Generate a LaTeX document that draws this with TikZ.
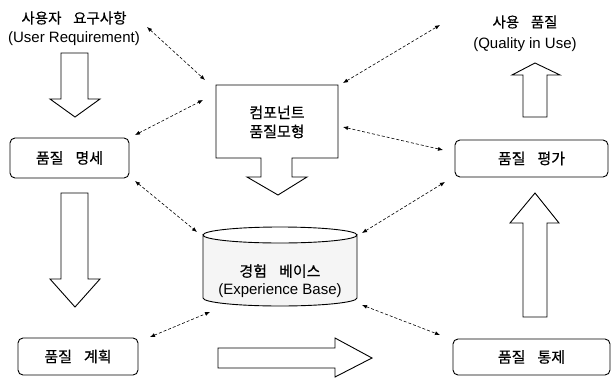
\documentclass[tikz,border=0pt]{standalone}
\usepackage{fontspec}
\setmainfont{Liberation Sans}
\newfontfamily\kr[FakeBold=0.4]{Noto Sans CJK KR}
\usetikzlibrary{arrows.meta}
\tikzset{
  blk/.style={draw=black, line width=0.9pt, fill=white, line join=miter},
  rbox/.style={draw=black, line width=0.9pt, rounded corners=5pt, inner sep=0pt,
    font=\kr\fontsize{15}{17}\selectfont},
  link/.style={line width=0.6pt, dash pattern=on 3pt off 2pt,
    {Latex[length=5pt,width=4pt]}-{Latex[length=5pt,width=4pt]}},
  krlbl/.style={inner sep=0pt, font=\kr\fontsize{14.5}{16}\selectfont},
  enlbl/.style={inner sep=0pt, font=\fontsize{15}{16}\selectfont}
}
\newcommand{\wsp}{\hspace{0.8em}}
\begin{document}
\begin{tikzpicture}[x=1pt,y=-1pt]
\useasboundingbox (0,0) rectangle (613,378);

% texts at top
\node[krlbl] (ur1) at (74,18) {사용자\wsp 요구사항};
\node[enlbl] (ur2) at (74,39) {(User Requirement)};
\node[krlbl] (qu1) at (525,22) {사용\wsp 품질};
\node[enlbl] (qu2) at (525,45) {(Quality in Use)};

% rounded boxes
\node[rbox, minimum width=119pt, minimum height=40pt] (spec) at (69.5,158) {품질\wsp 명세};
\node[rbox, minimum width=120pt, minimum height=37pt] (plan) at (78,356.5) {품질\wsp 계획};
\node[rbox, minimum width=153pt, minimum height=37pt] (eval) at (531.5,158.5) {품질\wsp 평가};
\node[rbox, minimum width=157pt, minimum height=36pt] (ctrl) at (531.5,357) {품질\wsp 통제};

% block arrows
\draw[blk] (61,53) -- (88,53) -- (88,99) -- (100,99) -- (75,117) -- (50,99) -- (61,99) -- cycle;
\draw[blk] (61,193) -- (88,193) -- (88,279) -- (100,279) -- (75,307) -- (50,279) -- (61,279) -- cycle;
\draw[blk] (218,348) -- (335,348) -- (335,338) -- (372,358) -- (335,377) -- (335,368) -- (218,368) -- cycle;
\draw[blk] (523,317) -- (523,223) -- (510,223) -- (535,193) -- (559,223) -- (547,223) -- (547,317) -- cycle;
\draw[blk] (523,117) -- (523,75) -- (512,75) -- (535,63) -- (560,75) -- (547,75) -- (547,117) -- cycle;

% component box with down arrow
\draw[blk] (216,85) -- (338,85) -- (338,158) -- (292,158) -- (292,177) -- (307,177)
  -- (278,195) -- (247,177) -- (261,177) -- (261,158) -- (216,158) -- cycle;
\node[krlbl, align=center, font=\kr\fontsize{15}{19}\selectfont] (comp) at (277,122) {컴포넌트\\품질모형};

% cylinder (experience base)
\draw[line width=0.9pt, fill=gray!8] (203,235) -- (203,298) arc[start angle=180, end angle=0, x radius=77, y radius=8]
  -- (357,235) arc[start angle=0, end angle=180, x radius=77, y radius=8] -- cycle;
\draw[line width=0.9pt] (203,235) arc[start angle=180, end angle=360, x radius=77, y radius=8];
\node[inner sep=0pt, align=center, font=\kr\fontsize{15}{18}\selectfont] (eb) at (280,281)
  {경험\wsp 베이스\\{\fontspec{Liberation Sans}(Experience Base)}};

% dashed links
\coordinate (a1) at (147,27);  \coordinate (b1) at (205,80);
\coordinate (a2) at (135,135); \coordinate (b2) at (203,100);
\coordinate (a3) at (343,83);  \coordinate (b3) at (440,25);
\coordinate (a4) at (343,127); \coordinate (b4) at (443,150);
\coordinate (a5) at (135,181); \coordinate (b5) at (197,232);
\coordinate (a6) at (362,233); \coordinate (b6) at (445,182);
\coordinate (a7) at (150,337); \coordinate (b7) at (210,312);
\coordinate (a8) at (362,305); \coordinate (b8) at (440,335);
\foreach \i in {1,...,8} { \draw[link] (a\i) -- (b\i); }
\end{tikzpicture}
\end{document}
